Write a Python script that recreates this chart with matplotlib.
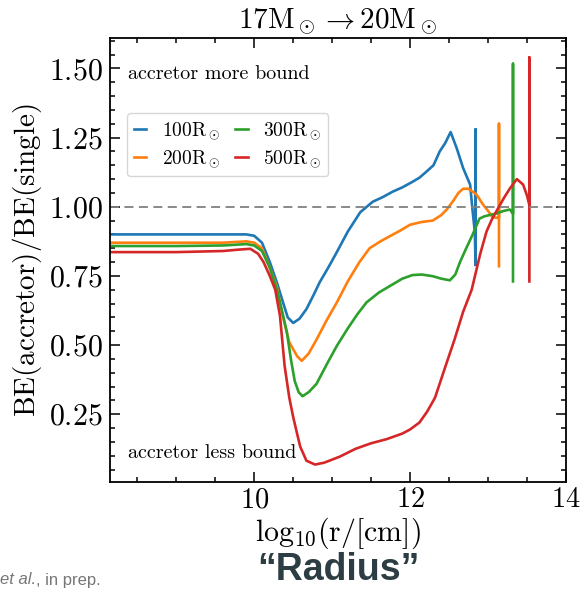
import matplotlib
matplotlib.use("Agg")
import matplotlib.pyplot as plt
from matplotlib.ticker import MultipleLocator

plt.rcParams['font.family'] = 'serif'
plt.rcParams['font.serif'] = ['cmr10']
plt.rcParams['mathtext.fontset'] = 'cm'
plt.rcParams['axes.formatter.use_mathtext'] = True

# curves (log10 r, BE ratio)
x_100 = [8.15, 9.0, 9.6, 9.9, 10.0, 10.1, 10.2, 10.29, 10.37, 10.43, 10.5, 10.58, 10.67, 10.76,
         10.84, 10.95, 11.06, 11.2, 11.36, 11.52, 11.65, 11.78, 11.9, 12.03, 12.12, 12.21, 12.3,
         12.38, 12.45, 12.52, 12.6, 12.68, 12.77, 12.8, 12.83, 12.84, 12.84, 12.84]
y_100 = [0.90, 0.90, 0.90, 0.90, 0.895, 0.87, 0.80, 0.727, 0.654, 0.60, 0.58, 0.595, 0.63, 0.68,
         0.727, 0.78, 0.836, 0.91, 0.98, 1.018, 1.035, 1.055, 1.07, 1.09, 1.105, 1.127, 1.15,
         1.2, 1.23, 1.27, 1.21, 1.14, 1.08, 0.99, 0.91, 0.79, 1.28, 0.79]

x_200 = [8.15, 9.0, 9.6, 9.9, 10.0, 10.1, 10.2, 10.29, 10.37, 10.45, 10.55, 10.61, 10.7, 10.8,
         10.93, 11.06, 11.2, 11.35, 11.48, 11.62, 11.75, 11.88, 12.0, 12.15, 12.29, 12.4, 12.47,
         12.55, 12.62, 12.68, 12.75, 12.85, 12.93, 13.0, 13.05, 13.1, 13.14, 13.14, 13.14]
y_200 = [0.87, 0.87, 0.87, 0.875, 0.87, 0.85, 0.78, 0.71, 0.60, 0.51, 0.46, 0.443, 0.47, 0.52,
         0.59, 0.654, 0.73, 0.80, 0.85, 0.875, 0.895, 0.915, 0.935, 0.945, 0.95, 0.97, 0.99,
         1.02, 1.05, 1.065, 1.065, 1.045, 1.01, 0.985, 0.965, 0.96, 0.96, 1.30, 0.785]

x_300 = [8.15, 9.0, 9.6, 9.9, 10.0, 10.1, 10.2, 10.29, 10.36, 10.42, 10.47, 10.52, 10.57, 10.62,
         10.7, 10.8, 10.93, 11.06, 11.2, 11.32, 11.44, 11.6, 11.78, 11.9, 12.03, 12.15, 12.29,
         12.4, 12.51, 12.58, 12.64, 12.72, 12.8, 12.89, 12.95, 13.02, 13.1, 13.2, 13.28, 13.32,
         13.32, 13.32]
y_300 = [0.858, 0.858, 0.86, 0.865, 0.86, 0.84, 0.78, 0.70, 0.62, 0.545, 0.45, 0.37, 0.33, 0.315,
         0.33, 0.36, 0.43, 0.497, 0.56, 0.61, 0.654, 0.69, 0.72, 0.74, 0.753, 0.755, 0.749,
         0.74, 0.734, 0.755, 0.80, 0.85, 0.898, 0.957, 0.965, 0.97, 0.975, 0.985, 0.99, 0.975,
         1.517, 0.73]

x_500 = [8.15, 9.0, 9.6, 9.8, 9.95, 10.05, 10.12, 10.2, 10.27, 10.33, 10.39, 10.45, 10.5, 10.55,
         10.59, 10.67, 10.78, 10.9, 11.1, 11.3, 11.5, 11.7, 11.9, 12.0, 12.12, 12.22, 12.32,
         12.45, 12.57, 12.68, 12.79, 12.9, 12.98, 13.05, 13.12, 13.2, 13.28, 13.37, 13.45, 13.5,
         13.53, 13.53, 13.53]
y_500 = [0.836, 0.836, 0.84, 0.845, 0.848, 0.83, 0.80, 0.75, 0.70, 0.607, 0.425, 0.31, 0.24, 0.18,
         0.133, 0.082, 0.068, 0.075, 0.097, 0.125, 0.145, 0.16, 0.18, 0.195, 0.22, 0.26, 0.31,
         0.42, 0.52, 0.62, 0.70, 0.83, 0.91, 0.955, 0.99, 1.03, 1.066, 1.10, 1.08, 1.04,
         1.006, 1.54, 0.73]

labels = [r'$100\mathrm{R}_\odot$', r'$200\mathrm{R}_\odot$',
          r'$300\mathrm{R}_\odot$', r'$500\mathrm{R}_\odot$']
colors = ['#1f77b4', '#ff7f0e', '#2ca02c', '#d62728']

fig = plt.figure(figsize=(5.83, 5.92), dpi=100)
ax = fig.add_axes([110 / 583, 110 / 592, 456 / 583, 444 / 592])

series = [(x_100, y_100), (x_200, y_200), (x_300, y_300), (x_500, y_500)]
for (xs, ys), lab, c in zip(series, labels, colors):
    ax.plot(xs, ys, color=c, lw=1.9, label=lab)

ax.axhline(1.0, color='gray', ls='--', lw=1.3, dashes=(5, 3))

ax.set_xlim(8.15, 14.0)
ax.set_ylim(0.005, 1.61)
ax.xaxis.set_major_locator(MultipleLocator(2))
ax.xaxis.set_minor_locator(MultipleLocator(0.5))
ax.yaxis.set_major_locator(MultipleLocator(0.25))
ax.yaxis.set_minor_locator(MultipleLocator(0.05))
ax.tick_params(which='both', direction='in', top=True, right=True, width=1.1)
ax.tick_params(axis='x', labelsize=20.5)
ax.tick_params(axis='y', labelsize=21.5, pad=5)
ax.tick_params(which='major', length=7)
ax.tick_params(which='minor', length=3.5)
for s in ax.spines.values():
    s.set_linewidth(1.3)

ax.set_xlabel(r'$\mathrm{log}_{10}(\mathrm{r}/[\mathrm{cm}])$', fontsize=21.5, labelpad=2)
ax.set_ylabel(r'$\mathrm{BE(accretor)/BE(single)}$', fontsize=21, labelpad=4)
ax.set_title(r'$17\mathrm{M}_\odot \rightarrow 20\mathrm{M}_\odot$', fontsize=21, pad=3)

ax.text(8.38, 1.48, 'accretor more bound', fontsize=14.5, va='center', ha='left')
ax.text(8.38, 0.11, 'accretor less bound', fontsize=14.5, va='center', ha='left')

ax.legend(loc='upper left', bbox_to_anchor=(0.037, 0.83), ncol=2, fontsize=14,
          handlelength=0.65, columnspacing=0.75, handletextpad=0.8, borderaxespad=0,
          borderpad=0.35, labelspacing=0.35, frameon=True, fancybox=True)

fig.text(338 / 583, 1 - 570 / 592, '\u201cRadius\u201d', fontsize=27, fontweight='bold',
         family='Liberation Sans', color='#2c3e44', ha='center', va='center')
fig.text(0 / 583, 1 - 580 / 592, 'et al.', fontsize=12, style='italic',
         family='Liberation Sans', color='#777777', ha='left', va='center')
fig.text(36 / 583, 1 - 580 / 592, ', in prep.', fontsize=12,
         family='Liberation Sans', color='#777777', ha='left', va='center')

fig.savefig('out.png', dpi=100)
